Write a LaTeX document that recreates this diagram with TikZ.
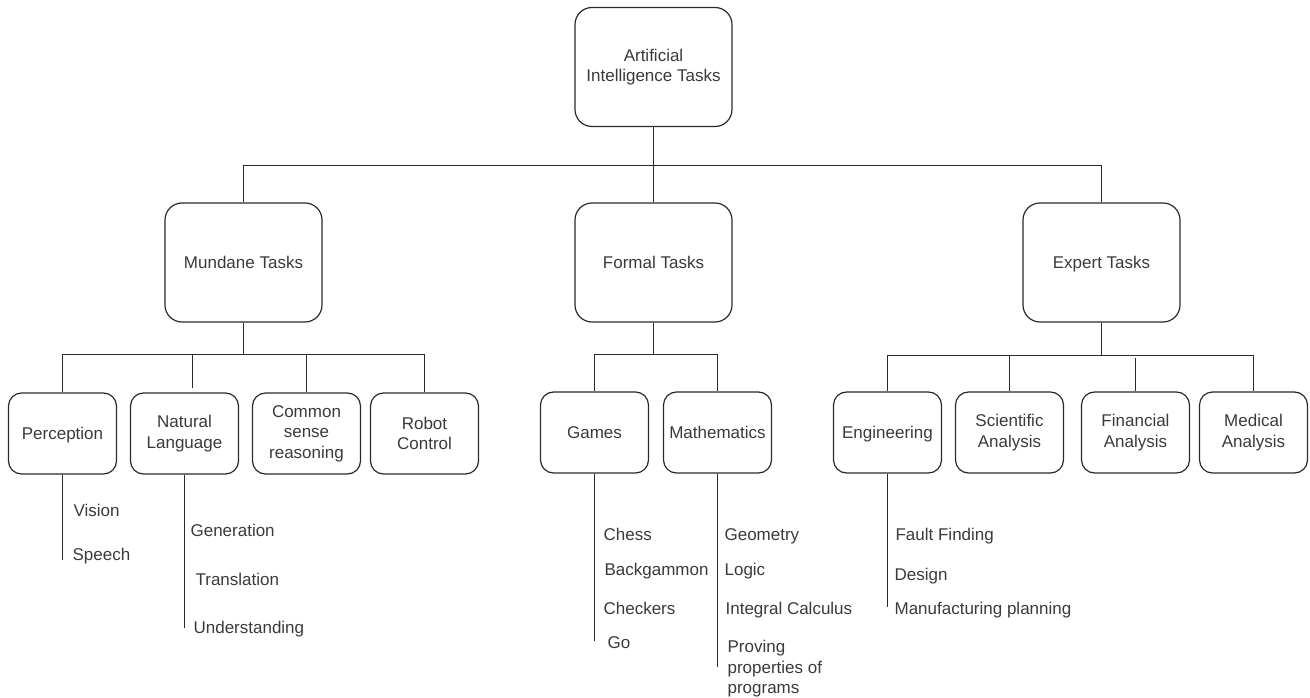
\documentclass[tikz,border=0pt]{standalone}
\usepackage{fontspec}
\setmainfont{Liberation Sans}
\definecolor{ln}{HTML}{2A2A2A}
\definecolor{txt}{HTML}{3A3A3A}
\begin{document}
\begin{tikzpicture}[x=1pt,y=-1pt,line width=1.2pt,
  every node/.style={text=txt,font=\fontsize{17}{20.5}\selectfont},
  bigbox/.style={draw=ln,rounded corners=17pt,minimum width=157pt,minimum height=119pt,align=center,inner sep=0pt},
  smallbox/.style={draw=ln,rounded corners=13pt,minimum width=108pt,minimum height=81pt,align=center,inner sep=0pt},
  oneline/.style={text height=12.2pt,text depth=1pt},
  item/.style={anchor=base west,inner sep=0pt},
  conn/.style={draw=ln}]
\useasboundingbox (0,0) rectangle (1310,698);
% level 0 / 1
\node[bigbox] (ai) at (653.5,67) {Artificial\\Intelligence Tasks};
\node[bigbox,oneline] (mun) at (243.5,262.5) {Mundane Tasks};
\node[bigbox,oneline] (for) at (653.5,262.5) {Formal Tasks};
\node[bigbox,oneline] (exp) at (1101.5,262.5) {Expert Tasks};
% level 2
\node[smallbox,oneline] (per) at (62.5,433.5) {Perception};
\node[smallbox] (nl) at (184.5,433.5) {Natural\\Language};
\node[smallbox] (cs) at (306.5,433.5) {Common\\sense\\reasoning};
\node[smallbox] (rob) at (424.5,433.5) {Robot\\Control};
\node[smallbox,oneline] (gam) at (594.5,432.5) {Games};
\node[smallbox,oneline] (mat) at (717.5,432.5) {Mathematics};
\node[smallbox,oneline] (eng) at (887.5,432.5) {Engineering};
\node[smallbox] (sci) at (1009.5,432.5) {Scientific\\Analysis};
\node[smallbox] (fin) at (1135.5,432.5) {Financial\\Analysis};
\node[smallbox] (med) at (1253.5,432.5) {Medical\\Analysis};
% buses
\coordinate (b0) at (653.5,165.5);
\draw[conn] (ai.south) -- (b0);
\draw[conn] (b0) -- (for.north);
\draw[conn] (mun.north) |- (b0) -| (exp.north);
\coordinate (b1) at (243.5,354.5);
\draw[conn] (mun.south) -- (b1);
\draw[conn] (per.north) |- (b1) -| (rob.north);
\draw[conn] (cs.north) -- (cs.north |- b1);
\coordinate (nlt) at (192.5,388);
\draw[conn] (nlt) -- (nlt |- b1);
\coordinate (b2) at (653.5,354.5);
\draw[conn] (for.south) -- (b2);
\draw[conn] (gam.north) |- (b2) -| (mat.north);
\coordinate (b3) at (1101.5,355.5);
\draw[conn] (exp.south) -- (b3);
\draw[conn] (eng.north) |- (b3) -| (med.north);
\draw[conn] (sci.north) -- (sci.north |- b3);
\coordinate (fint) at (1135.5,358);
\draw[conn] (fin.north) -- (fint);
% lists
\coordinate (pe) at (62.5,560);
\draw[conn] (per.south) -- (pe);
\node[item] (vis) at (73,516) {Vision};
\node[item] (spe) at (72,560) {Speech};
\coordinate (nle) at (184.5,628);
\draw[conn] (nl.south) -- (nle);
\node[item] (gen) at (190,536) {Generation};
\node[item] (tra) at (195,585) {Translation};
\node[item] (und) at (193,633) {Understanding};
\coordinate (ge) at (594.5,641);
\draw[conn] (gam.south) -- (ge);
\node[item] (che) at (603,540) {Chess};
\node[item] (bac) at (604,575) {Backgammon};
\node[item] (chk) at (603,614) {Checkers};
\node[item] (go) at (607,648) {Go};
\coordinate (me) at (717.5,667);
\draw[conn] (mat.south) -- (me);
\node[item] (geo) at (724,540) {Geometry};
\node[item] (log) at (724,575) {Logic};
\node[item] (int) at (725,614) {Integral Calculus};
\node[anchor=north west,inner sep=0pt,align=left] (pro) at (727,640) {Proving\\properties of\\programs};
\coordinate (ee) at (887.5,607);
\draw[conn] (eng.south) -- (ee);
\node[item] (fau) at (895,540) {Fault Finding};
\node[item] (des) at (894,580) {Design};
\node[item] (man) at (894,614) {Manufacturing planning};
\end{tikzpicture}
\end{document}
